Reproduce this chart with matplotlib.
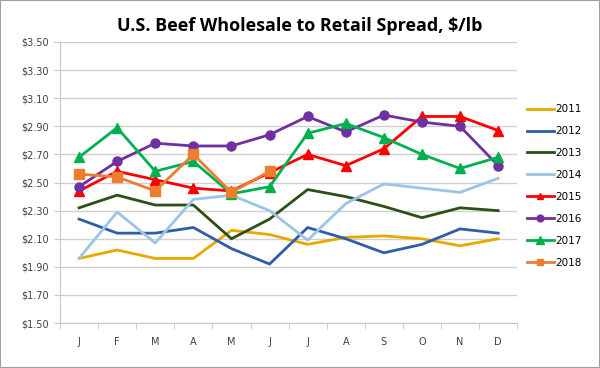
import numpy as np
import matplotlib
matplotlib.use("Agg")
import matplotlib.pyplot as plt
from matplotlib.patches import Rectangle

months = ["J", "F", "M", "A", "M", "J", "J", "A", "S", "O", "N", "D"]

y2011 = [1.96, 2.02, 1.96, 1.96, 2.16, 2.13, 2.06, 2.11, 2.12, 2.10, 2.05, 2.10]
y2012 = [2.24, 2.14, 2.14, 2.18, 2.03, 1.92, 2.18, 2.10, 2.00, 2.06, 2.17, 2.14]
y2013 = [2.32, 2.41, 2.34, 2.34, 2.10, 2.24, 2.45, 2.40, 2.33, 2.25, 2.32, 2.30]
y2014 = [1.96, 2.29, 2.07, 2.38, 2.41, 2.30, 2.09, 2.35, 2.49, 2.46, 2.43, 2.53]
y2015 = [2.44, 2.58, 2.52, 2.46, 2.44, 2.57, 2.70, 2.62, 2.74, 2.97, 2.97, 2.87]
y2016 = [2.47, 2.65, 2.78, 2.76, 2.76, 2.84, 2.97, 2.86, 2.98, 2.93, 2.90, 2.62]
y2017 = [2.68, 2.89, 2.58, 2.65, 2.42, 2.47, 2.85, 2.92, 2.82, 2.70, 2.60, 2.68]
y2018 = [2.56, 2.54, 2.44, 2.70, 2.43, 2.58]

x = np.arange(len(months))

fig = plt.figure(figsize=(6, 3.68), dpi=100)
ax = fig.add_axes([0.1, 0.122, 0.762, 0.764])

# plain lines for the older years
ax.plot(x, y2011, color="#E8A800", lw=2, label="2011")
ax.plot(x, y2012, color="#2E5EAA", lw=2, label="2012")
ax.plot(x, y2013, color="#2D4F17", lw=2, label="2013")
ax.plot(x, y2014, color="#9DC3E6", lw=2, label="2014")
# marked lines for the recent years
ax.plot(x, y2015, color="#FF0000", lw=2, marker="^", ms=6.5, label="2015")
ax.plot(x, y2016, color="#7030A0", lw=2, marker="o", ms=6.5, label="2016")
ax.plot(x, y2017, color="#00B050", lw=2, marker="^", ms=7, label="2017")
ax.plot(x[:len(y2018)], y2018, color="#ED7D31", lw=2, marker="s", ms=6.5, label="2018")

ax.set_ylim(1.5, 3.5)
ax.set_xlim(-0.5, 11.5)
ax.set_yticks(np.arange(1.5, 3.51, 0.2))
ax.set_yticklabels(["${:.2f}".format(v) for v in np.arange(1.5, 3.51, 0.2)])
ax.set_xticks(x)
ax.set_xticklabels(months)
ax.set_xticks(np.arange(-0.5, 12, 1), minor=True)
ax.tick_params(axis="y", length=4, color="#C8C8C8", labelsize=7, labelcolor="#404040", pad=4)
ax.tick_params(axis="x", which="major", length=0, labelsize=7, labelcolor="#404040", pad=10)
ax.tick_params(axis="x", which="minor", length=4, color="#C8C8C8")
ax.grid(axis="y", color="#D0D0D0", lw=1)
ax.set_axisbelow(True)
for s in ["top", "right"]:
    ax.spines[s].set_visible(False)
ax.spines["left"].set_color("#C8C8C8")
ax.spines["bottom"].set_color("#C8C8C8")

fig.text(0.5, 0.905, "U.S. Beef Wholesale to Retail Spread, $/lb",
         ha="center", va="bottom", fontsize=13, fontweight="bold",
         family="Open Sans")

ax.legend(loc="upper left", bbox_to_anchor=(1.0, 0.812), frameon=False,
          fontsize=7.5, handlelength=2.6, labelspacing=1.15, handletextpad=0.2,
          markerscale=0.75)

fig.patches.append(Rectangle((0, 0), 1, 1, transform=fig.transFigure,
                             fill=False, edgecolor="#A0A0A0", lw=1.5))

fig.savefig("out.png", dpi=100)
